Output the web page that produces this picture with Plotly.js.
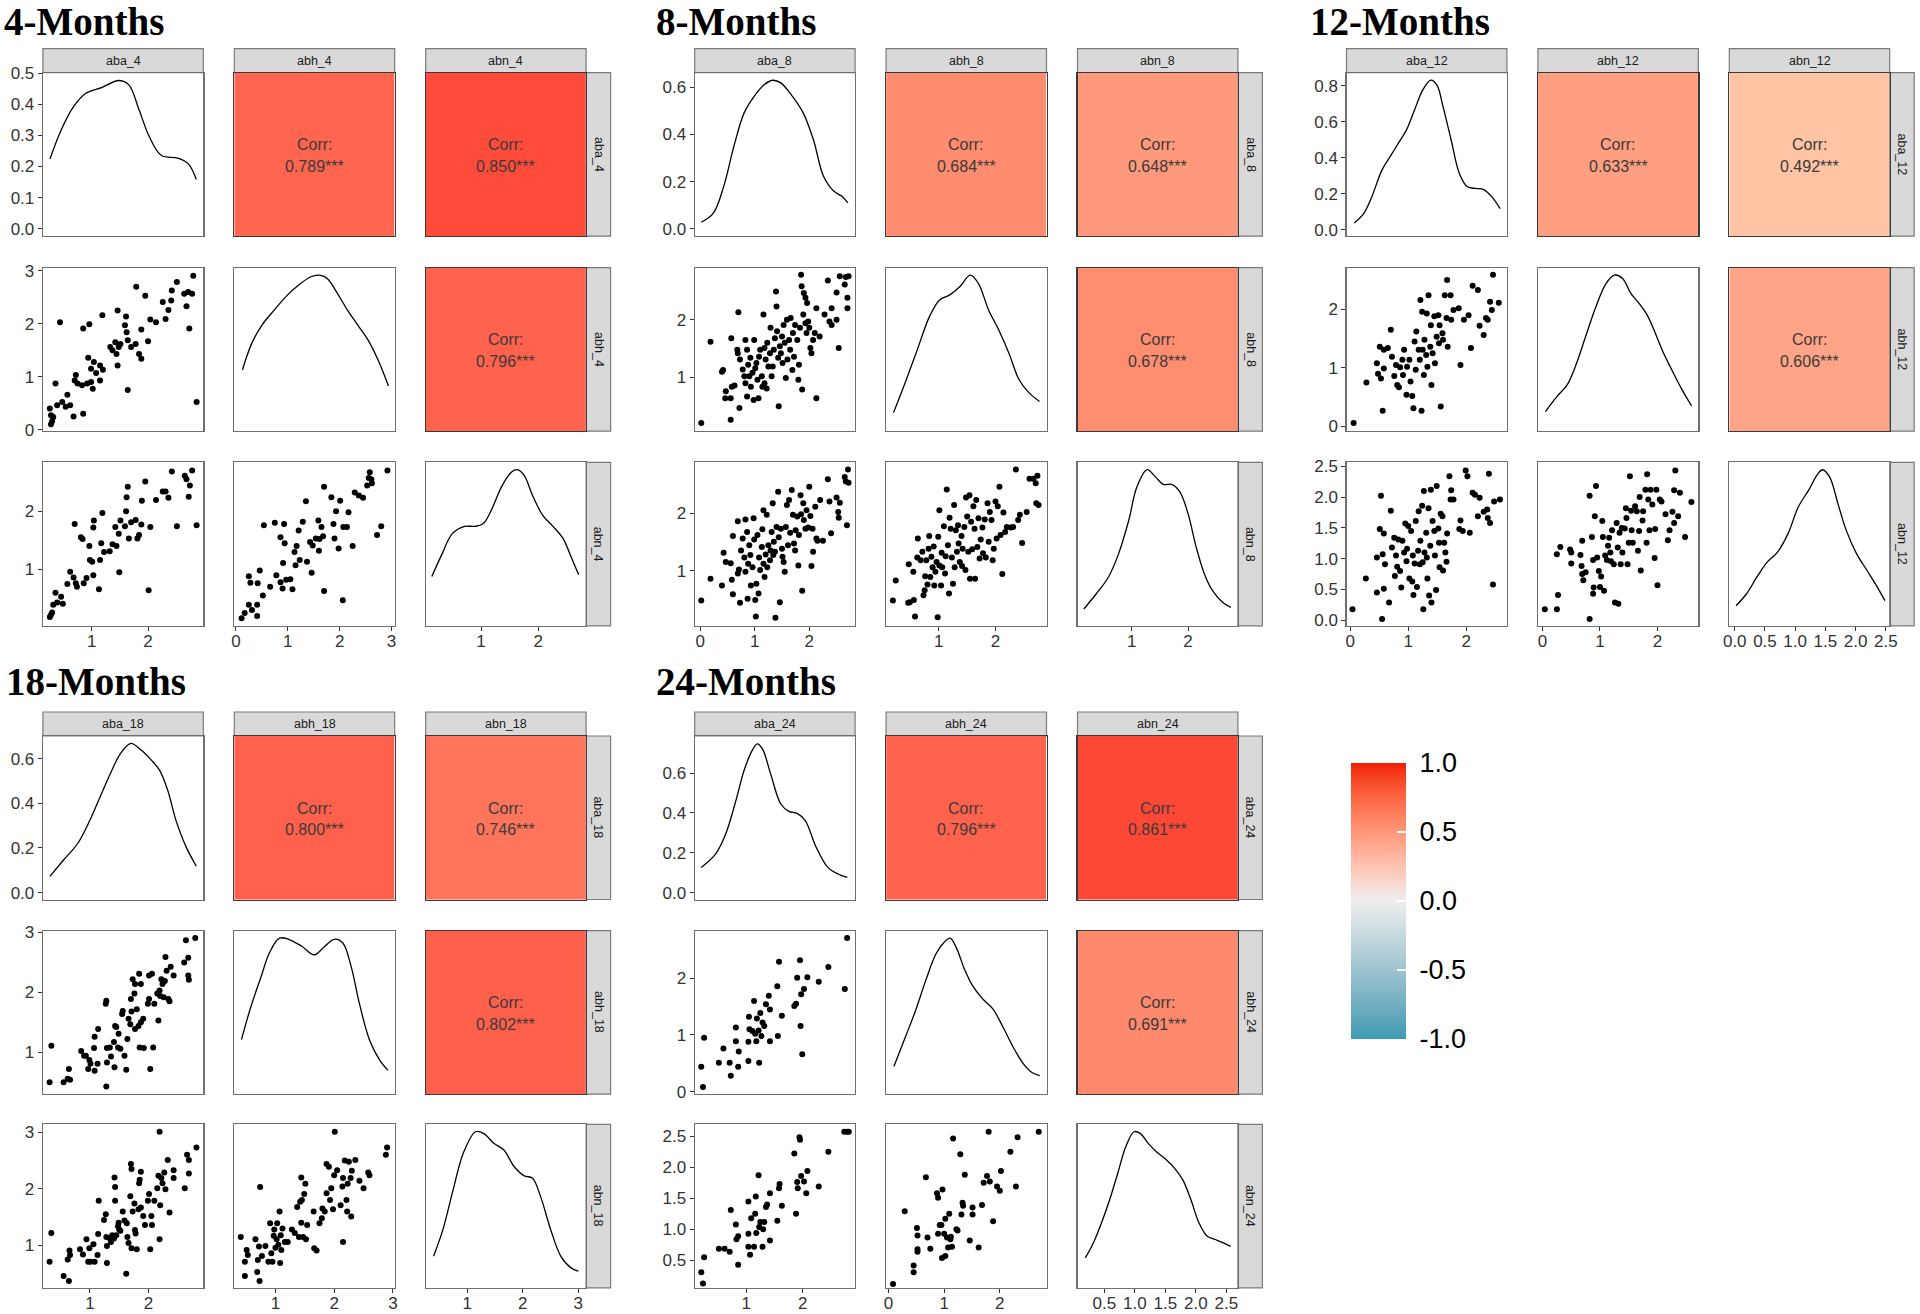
<!DOCTYPE html>
<html><head><meta charset="utf-8">
<script src="https://cdn.plot.ly/plotly-3.0.1.min.js"></script>
<style>html,body{margin:0;padding:0;background:#fff}#chart{width:1920px;height:1314px}</style>
</head><body><div id="chart"></div>
<script>
// ---------------- DATA ----------------
const blockTitles = ['4-Months','8-Months','12-Months','18-Months','24-Months'];
const varNames = [['aba_4','abh_4','abn_4'],['aba_8','abh_8','abn_8'],['aba_12','abh_12','abn_12'],['aba_18','abh_18','abn_18'],['aba_24','abh_24','abn_24']];
// correlations: [aba-abh, aba-abn, abh-abn]
const corr_4  = [0.789, 0.850, 0.796];
const corr_8  = [0.684, 0.648, 0.678];
const corr_12 = [0.633, 0.492, 0.606];
const corr_18 = [0.800, 0.746, 0.802];
const corr_24 = [0.796, 0.861, 0.691];
const corrSig = '***';
const colorbarTicks = [-1, -0.5, 0, 0.5, 1];
const colorbarTickText = ['-1.0','-0.5','0.0','0.5','1.0'];

// density curves [x, density]; first variable of each block is on the labelled density axis,
// the other two are read relative to their (unlabelled) peak
const dens_aba_4 = [[0.261,0.224],[0.463,0.318],[0.68,0.392],[0.898,0.435],[1.187,0.454],[1.478,0.476],[1.659,0.462],[1.84,0.382],[2.02,0.296],[2.237,0.235],[2.528,0.227],[2.71,0.209],[2.855,0.158]];
const dens_abh_4 = [[0.126,0.362],[0.306,0.541],[0.503,0.664],[0.739,0.765],[0.974,0.859],[1.21,0.933],[1.445,0.989],[1.602,1.0],[1.76,0.978],[1.956,0.877],[2.15,0.765],[2.35,0.664],[2.545,0.564],[2.74,0.429],[2.94,0.254]];
const dens_abn_4 = [[0.137,0.281],[0.317,0.434],[0.496,0.57],[0.712,0.619],[0.892,0.619],[1.036,0.637],[1.18,0.728],[1.36,0.886],[1.54,0.987],[1.633,1.0],[1.755,0.962],[1.90,0.829],[2.08,0.693],[2.26,0.619],[2.44,0.535],[2.58,0.411],[2.71,0.293]];
const dens_aba_8 = [[0.022,0.028],[0.246,0.068],[0.433,0.181],[0.619,0.350],[0.806,0.491],[0.993,0.562],[1.179,0.611],[1.328,0.629],[1.478,0.618],[1.664,0.569],[1.888,0.491],[2.075,0.378],[2.261,0.223],[2.448,0.160],[2.597,0.138],[2.709,0.110]];
const dens_abh_8 = [[0.201,0.075],[0.403,0.273],[0.619,0.497],[0.835,0.721],[1.014,0.833],[1.194,0.867],[1.374,0.923],[1.554,1.0],[1.698,0.945],[1.878,0.766],[2.058,0.631],[2.237,0.475],[2.417,0.296],[2.597,0.206],[2.777,0.15]];
const dens_abn_8 = [[0.152,0.063],[0.37,0.164],[0.587,0.277],[0.768,0.434],[0.949,0.66],[1.094,0.885],[1.275,1.0],[1.42,0.952],[1.565,0.902],[1.71,0.902],[1.855,0.851],[2.0,0.705],[2.145,0.479],[2.29,0.299],[2.435,0.186],[2.616,0.107],[2.761,0.074]];
const dens_aba_12 = [[0.07,0.037],[0.232,0.089],[0.372,0.182],[0.547,0.331],[0.688,0.406],[0.828,0.48],[0.968,0.554],[1.109,0.666],[1.249,0.777],[1.389,0.833],[1.495,0.805],[1.6,0.685],[1.74,0.499],[1.881,0.313],[2.021,0.238],[2.161,0.229],[2.302,0.223],[2.442,0.182],[2.582,0.117]];
const dens_abh_12 = [[0.05,0.082],[0.25,0.183],[0.429,0.262],[0.571,0.385],[0.75,0.587],[0.929,0.788],[1.107,0.945],[1.25,1.0],[1.393,0.978],[1.536,0.877],[1.679,0.81],[1.821,0.731],[1.964,0.608],[2.107,0.474],[2.25,0.362],[2.429,0.228],[2.593,0.12]];
const dens_abn_12 = [[0.021,0.085],[0.193,0.164],[0.365,0.277],[0.537,0.378],[0.709,0.446],[0.882,0.57],[1.054,0.751],[1.226,0.864],[1.364,0.965],[1.453,1.0],[1.57,0.952],[1.708,0.772],[1.846,0.592],[2.018,0.434],[2.19,0.322],[2.362,0.209],[2.486,0.119]];
const dens_aba_18 = [[0.315,0.073],[0.545,0.145],[0.79,0.22],[1.0,0.325],[1.175,0.43],[1.35,0.534],[1.524,0.624],[1.699,0.669],[1.874,0.639],[2.049,0.594],[2.189,0.549],[2.329,0.459],[2.469,0.325],[2.643,0.205],[2.818,0.118]];
const dens_abh_18 = [[0.422,0.317],[0.582,0.537],[0.756,0.739],[0.895,0.897],[1.07,0.998],[1.244,0.987],[1.453,0.942],[1.662,0.886],[1.836,0.942],[2.01,0.991],[2.15,0.964],[2.289,0.807],[2.429,0.56],[2.603,0.312],[2.777,0.177],[2.916,0.11]];
const dens_abn_18 = [[0.392,0.162],[0.56,0.341],[0.744,0.609],[0.927,0.855],[1.147,1.0],[1.293,0.989],[1.476,0.922],[1.659,0.877],[1.842,0.766],[2.026,0.703],[2.172,0.688],[2.319,0.565],[2.502,0.341],[2.685,0.162],[2.868,0.084],[3.0,0.062]];
const dens_aba_24 = [[0.209,0.127],[0.46,0.194],[0.64,0.295],[0.82,0.462],[0.964,0.613],[1.108,0.714],[1.194,0.747],[1.288,0.721],[1.432,0.596],[1.612,0.445],[1.755,0.408],[1.899,0.398],[2.043,0.362],[2.223,0.236],[2.439,0.127],[2.619,0.094],[2.784,0.077]];
const dens_abh_24 = [[0.095,0.136],[0.3,0.333],[0.484,0.512],[0.667,0.714],[0.85,0.893],[0.996,0.971],[1.106,1.0],[1.216,0.938],[1.363,0.792],[1.509,0.68],[1.692,0.591],[1.875,0.524],[2.059,0.4],[2.242,0.266],[2.425,0.154],[2.571,0.098],[2.718,0.075]];
const dens_abn_24 = [[0.187,0.151],[0.32,0.252],[0.453,0.386],[0.587,0.542],[0.72,0.721],[0.853,0.9],[0.987,1.0],[1.087,0.989],[1.22,0.922],[1.353,0.866],[1.52,0.81],[1.653,0.754],[1.787,0.676],[1.92,0.542],[2.053,0.386],[2.187,0.297],[2.32,0.275],[2.453,0.252],[2.573,0.229]];

// scatter points [x, y]
const pts4_aba_abh = [[0.26,0.40],[0.28,0.27],[0.30,0.16],[0.28,0.10],[0.32,0.24],[0.36,0.87],[0.44,2.03],[0.39,0.46],[0.48,0.52],[0.54,0.43],[0.57,0.66],[0.62,0.46],[0.68,0.25],[0.70,0.93],[0.72,1.03],[0.75,0.87],[0.83,0.84],[0.85,0.30],[0.85,1.91],[0.92,0.87],[0.96,1.99],[0.94,1.36],[0.99,0.90],[0.99,1.15],[1.02,0.77],[1.04,1.28],[1.08,1.07],[1.15,0.93],[1.15,1.21],[1.19,2.16],[1.20,1.13],[1.33,1.56],[1.37,1.50],[1.42,1.65],[1.44,1.43],[1.46,1.21],[1.46,2.25],[1.48,1.56],[1.51,1.62],[1.59,1.97],[1.61,2.14],[1.62,1.84],[1.64,0.75],[1.64,1.69],[1.70,1.56],[1.78,1.62],[1.79,2.70],[1.84,1.43],[1.88,1.34],[1.88,1.89],[1.95,2.53],[2.00,1.67],[2.04,2.08],[2.14,2.03],[2.26,2.41],[2.31,2.09],[2.36,2.26],[2.41,2.44],[2.42,2.63],[2.51,2.79],[2.64,2.57],[2.68,2.33],[2.71,2.60],[2.73,1.91],[2.78,2.57],[2.80,2.91],[2.86,0.52]];
const pts4_aba_abn = [[0.26,0.18],[0.28,0.22],[0.30,0.26],[0.36,0.60],[0.32,0.39],[0.39,0.43],[0.46,0.53],[0.49,0.41],[0.57,0.75],[0.62,0.96],[0.68,0.86],[0.70,1.78],[0.72,0.76],[0.74,0.70],[0.81,1.55],[0.84,1.52],[0.86,0.76],[0.91,0.85],[0.96,1.40],[0.97,1.16],[1.01,1.13],[1.03,1.72],[1.04,1.84],[1.03,0.90],[1.13,0.66],[1.15,1.16],[1.17,1.45],[1.19,1.97],[1.22,1.30],[1.32,1.31],[1.37,1.43],[1.42,1.73],[1.44,1.40],[1.48,1.61],[1.49,0.95],[1.51,1.84],[1.59,1.74],[1.61,2.00],[1.62,2.24],[1.64,2.42],[1.66,1.53],[1.70,1.81],[1.78,1.85],[1.81,1.53],[1.84,1.59],[1.88,1.77],[1.89,2.18],[1.95,2.51],[2.01,0.64],[2.04,1.73],[2.14,2.19],[2.26,2.34],[2.31,2.34],[2.36,2.23],[2.42,2.68],[2.51,1.74],[2.65,2.61],[2.68,2.55],[2.72,2.25],[2.74,2.44],[2.78,2.70],[2.86,1.76]];
const pts4_abh_abn = [[0.11,0.16],[0.17,0.25],[0.25,0.88],[0.28,0.77],[0.25,0.39],[0.31,0.30],[0.41,0.39],[0.42,0.76],[0.41,0.20],[0.46,0.98],[0.52,0.55],[0.54,1.76],[0.66,0.70],[0.75,1.80],[0.78,0.90],[0.86,1.55],[0.86,0.78],[0.90,0.67],[0.91,1.11],[0.93,1.78],[0.94,1.45],[0.97,0.82],[1.05,0.83],[1.09,0.66],[1.13,1.30],[1.15,1.07],[1.17,1.40],[1.21,1.67],[1.23,1.16],[1.29,1.82],[1.35,2.17],[1.37,1.13],[1.43,1.47],[1.46,0.94],[1.48,1.41],[1.54,1.53],[1.59,1.84],[1.60,1.32],[1.61,1.52],[1.65,1.73],[1.68,1.57],[1.70,0.63],[1.70,2.42],[1.84,2.24],[1.88,1.78],[1.90,1.53],[1.93,2.00],[1.98,1.36],[2.01,2.18],[2.06,0.47],[2.07,1.73],[2.14,1.73],[2.17,1.98],[2.25,1.40],[2.29,2.32],[2.37,2.27],[2.45,2.23],[2.53,2.44],[2.56,2.57],[2.58,2.67],[2.61,2.55],[2.62,2.48],[2.72,1.59],[2.80,1.74],[2.92,2.70]];

const pts8_aba_abh = [[0.02,0.21],[0.19,1.62],[0.56,0.27],[0.46,0.64],[0.47,0.76],[0.56,0.64],[0.58,0.84],[0.63,0.86],[0.40,1.10],[0.42,1.13],[0.57,1.68],[0.70,2.13],[0.68,1.48],[0.69,1.42],[0.73,1.31],[0.72,0.47],[0.78,1.14],[0.81,1.02],[0.83,1.65],[0.83,0.90],[0.86,0.67],[0.86,1.48],[0.88,1.22],[0.90,1.02],[0.92,1.34],[0.93,0.84],[0.96,1.08],[0.98,0.61],[0.99,1.65],[1.01,1.16],[1.03,1.25],[1.05,0.96],[1.07,0.64],[1.08,1.36],[1.10,1.48],[1.13,1.02],[1.14,0.84],[1.16,2.09],[1.18,1.51],[1.18,0.90],[1.20,1.31],[1.22,0.81],[1.23,1.60],[1.25,1.19],[1.28,1.42],[1.29,1.86],[1.31,1.02],[1.33,1.19],[1.35,1.48],[1.37,1.68],[1.39,2.49],[1.40,2.23],[1.41,1.80],[1.43,1.34],[1.44,0.50],[1.46,1.54],[1.48,1.42],[1.50,1.71],[1.51,1.25],[1.53,1.91],[1.55,1.60],[1.57,0.99],[1.59,2.00],[1.60,1.31],[1.63,1.65],[1.65,1.48],[1.66,2.03],[1.69,1.13],[1.70,1.77],[1.72,1.36],[1.74,1.91],[1.78,1.65],[1.80,0.96],[1.81,1.22],[1.83,1.86],[1.85,2.78],[1.86,2.58],[1.87,0.79],[1.89,2.09],[1.90,2.46],[1.93,1.94],[1.93,2.38],[1.95,1.77],[1.96,2.29],[1.98,1.97],[2.00,1.86],[2.02,1.51],[2.04,1.42],[2.07,1.65],[2.10,1.77],[2.13,0.64],[2.13,2.20],[2.19,1.71],[2.28,2.09],[2.34,2.68],[2.37,1.97],[2.41,2.20],[2.41,1.91],[2.50,2.00],[2.54,1.51],[2.50,2.47],[2.56,2.75],[2.65,2.61],[2.67,2.74],[2.70,2.38],[2.70,2.20],[2.72,2.75]];
const pts8_aba_abn = [[0.02,0.48],[0.19,0.86],[0.40,0.74],[0.43,1.31],[0.47,1.15],[0.56,1.13],[0.58,0.84],[0.60,1.60],[0.60,0.59],[0.69,1.86],[0.69,0.95],[0.71,1.02],[0.73,0.44],[0.75,1.35],[0.78,1.56],[0.81,1.23],[0.83,1.89],[0.83,0.98],[0.86,1.67],[0.87,0.51],[0.88,1.12],[0.90,1.44],[0.92,1.27],[0.93,0.74],[0.96,1.06],[0.98,1.91],[0.99,1.54],[1.01,0.49],[1.02,0.20],[1.03,0.77],[1.05,1.62],[1.07,0.60],[1.08,1.23],[1.10,1.01],[1.13,1.41],[1.14,1.72],[1.16,2.05],[1.16,1.12],[1.18,0.89],[1.20,1.28],[1.22,1.97],[1.23,1.06],[1.25,1.44],[1.28,1.18],[1.29,1.35],[1.31,1.67],[1.33,2.17],[1.34,1.27],[1.35,1.50],[1.37,1.33],[1.38,0.18],[1.40,1.76],[1.43,2.37],[1.44,1.58],[1.46,0.45],[1.48,1.73],[1.50,1.38],[1.51,1.24],[1.53,1.15],[1.55,0.98],[1.57,1.76],[1.59,2.14],[1.61,1.44],[1.63,2.23],[1.65,1.66],[1.68,2.40],[1.70,1.97],[1.72,1.47],[1.74,1.35],[1.75,1.70],[1.78,1.94],[1.80,1.09],[1.81,1.62],[1.84,2.31],[1.85,1.98],[1.87,0.65],[1.89,2.17],[1.90,1.88],[1.93,1.73],[1.95,2.05],[1.98,1.75],[2.00,2.46],[2.02,1.95],[2.04,1.08],[2.06,1.73],[2.07,1.33],[2.11,2.11],[2.13,1.56],[2.15,1.52],[2.20,2.23],[2.25,1.52],[2.34,2.59],[2.37,2.20],[2.40,1.65],[2.50,2.27],[2.53,2.02],[2.54,1.92],[2.56,2.18],[2.65,2.63],[2.67,2.55],[2.69,1.79],[2.71,2.76],[2.72,2.53]];
const pts8_abh_abn = [[0.19,0.48],[0.24,0.83],[0.46,0.44],[0.49,0.45],[0.56,0.49],[0.58,0.20],[0.47,1.11],[0.55,0.98],[0.62,1.23],[0.63,1.56],[0.68,1.18],[0.71,1.33],[0.73,0.57],[0.75,0.66],[0.76,0.90],[0.78,1.18],[0.80,0.76],[0.82,1.38],[0.83,1.60],[0.85,0.89],[0.87,1.24],[0.89,1.06],[0.91,1.42],[0.92,0.74],[0.94,0.98],[0.96,1.15],[0.98,0.19],[0.99,1.59],[1.01,2.05],[1.01,1.09],[1.04,0.74],[1.05,1.31],[1.06,1.06],[1.09,1.77],[1.11,0.95],[1.12,1.25],[1.14,2.41],[1.16,1.44],[1.18,0.60],[1.19,1.92],[1.21,1.73],[1.23,1.23],[1.25,0.77],[1.27,2.14],[1.28,1.06],[1.30,1.70],[1.32,1.33],[1.34,1.79],[1.35,1.47],[1.37,1.15],[1.40,1.60],[1.41,1.08],[1.42,1.38],[1.45,1.76],[1.47,1.01],[1.48,2.27],[1.50,1.94],[1.52,1.33],[1.54,2.31],[1.55,0.86],[1.57,1.85],[1.59,1.37],[1.61,2.12],[1.63,1.73],[1.64,0.86],[1.66,2.23],[1.68,1.41],[1.70,1.91],[1.72,1.21],[1.74,1.54],[1.77,1.75],[1.78,1.30],[1.81,1.89],[1.83,1.23],[1.86,2.17],[1.88,1.50],[1.90,2.02],[1.93,1.88],[1.95,1.18],[1.97,1.38],[2.00,2.20],[2.02,1.56],[2.04,2.12],[2.07,2.46],[2.09,1.62],[2.12,0.94],[2.14,2.01],[2.17,1.67],[2.20,1.76],[2.27,1.75],[2.31,1.76],[2.36,2.76],[2.40,1.88],[2.43,1.97],[2.47,1.48],[2.55,2.02],[2.60,2.60],[2.67,2.60],[2.71,2.52],[2.72,2.17],[2.74,2.65],[2.76,2.14]];

const pts12_aba_abh = [[0.06,0.06],[0.28,0.75],[0.56,0.27],[0.46,1.08],[0.48,0.90],[0.51,1.36],[0.53,0.82],[0.58,0.99],[0.58,1.31],[0.65,1.34],[0.70,1.65],[0.72,1.19],[0.76,0.86],[0.79,1.05],[0.81,0.71],[0.84,0.67],[0.86,1.01],[0.90,1.14],[0.91,0.88],[0.93,1.31],[0.97,0.54],[0.98,1.02],[1.02,1.14],[1.04,0.77],[1.07,0.52],[1.09,0.31],[1.11,1.45],[1.13,0.97],[1.14,1.62],[1.18,1.31],[1.20,1.14],[1.21,2.16],[1.23,0.27],[1.24,1.96],[1.25,1.31],[1.27,0.88],[1.28,1.48],[1.31,1.22],[1.32,1.93],[1.33,1.02],[1.35,2.24],[1.38,1.36],[1.39,1.73],[1.40,0.71],[1.42,1.25],[1.45,1.88],[1.46,1.08],[1.49,1.53],[1.52,1.90],[1.53,1.42],[1.54,1.73],[1.56,0.34],[1.59,1.59],[1.60,1.48],[1.63,2.24],[1.66,1.85],[1.67,2.50],[1.68,1.36],[1.73,2.24],[1.74,1.82],[1.78,1.99],[1.87,2.02],[1.90,1.05],[1.96,1.82],[2.04,1.90],[2.08,1.34],[2.11,2.40],[2.20,2.33],[2.23,1.72],[2.30,1.56],[2.34,1.85],[2.37,1.82],[2.41,2.13],[2.44,1.99],[2.46,2.59],[2.56,2.11]];
const pts12_aba_abn = [[0.04,0.18],[0.27,0.68],[0.46,0.45],[0.46,1.02],[0.51,1.48],[0.53,2.02],[0.55,0.02],[0.56,1.07],[0.58,1.41],[0.58,0.51],[0.60,0.91],[0.67,0.29],[0.70,1.78],[0.72,1.18],[0.76,1.34],[0.77,0.72],[0.79,1.05],[0.81,0.87],[0.83,1.31],[0.86,0.80],[0.88,0.53],[0.90,1.29],[0.93,1.10],[0.95,1.57],[0.97,0.96],[0.98,1.16],[1.00,1.53],[1.02,0.68],[1.05,1.45],[1.07,0.63],[1.08,1.05],[1.09,0.41],[1.11,0.92],[1.13,1.61],[1.15,0.54],[1.17,1.13],[1.18,1.77],[1.20,0.91],[1.21,1.29],[1.24,1.86],[1.25,0.94],[1.26,0.18],[1.27,2.10],[1.28,1.10],[1.31,1.42],[1.32,1.02],[1.33,0.68],[1.35,1.82],[1.36,0.40],[1.38,1.21],[1.39,2.12],[1.40,0.29],[1.42,1.61],[1.45,1.45],[1.46,1.05],[1.48,0.49],[1.49,2.18],[1.52,1.49],[1.53,1.26],[1.54,0.86],[1.56,1.73],[1.59,1.69],[1.60,0.81],[1.62,1.26],[1.64,1.10],[1.66,0.95],[1.67,1.41],[1.71,2.34],[1.73,1.96],[1.74,2.11],[1.78,1.96],[1.88,1.48],[1.90,1.62],[1.94,1.45],[1.99,2.43],[2.02,2.34],[2.06,1.42],[2.11,2.07],[2.15,2.04],[2.20,1.69],[2.23,1.99],[2.30,1.76],[2.36,1.80],[2.37,1.66],[2.39,2.38],[2.41,1.58],[2.46,0.58],[2.48,1.93],[2.58,1.96]];
const pts12_abh_abn = [[0.04,0.18],[0.25,0.18],[0.27,0.41],[0.31,1.19],[0.25,1.07],[0.48,1.15],[0.50,0.92],[0.50,1.10],[0.66,1.06],[0.68,0.88],[0.69,1.29],[0.69,0.75],[0.71,0.65],[0.75,0.78],[0.82,2.02],[0.82,0.02],[0.86,1.35],[0.88,0.98],[0.88,0.43],[0.89,0.53],[0.91,1.69],[0.93,2.18],[0.95,1.02],[0.98,0.80],[1.00,0.54],[1.02,0.71],[1.04,1.61],[1.05,1.35],[1.07,0.48],[1.09,1.05],[1.12,0.98],[1.14,1.21],[1.16,1.34],[1.18,1.10],[1.19,0.96],[1.21,1.46],[1.24,0.91],[1.26,0.29],[1.29,1.58],[1.31,1.18],[1.32,0.27],[1.34,1.42],[1.36,0.91],[1.38,1.50],[1.39,1.10],[1.43,1.49],[1.45,1.82],[1.46,1.66],[1.48,0.91],[1.50,1.26],[1.52,2.34],[1.54,1.78],[1.55,1.46],[1.57,1.26],[1.61,1.85],[1.64,1.77],[1.66,1.13],[1.68,1.45],[1.69,2.00],[1.71,0.81],[1.74,1.62],[1.75,1.77],[1.79,2.12],[1.81,1.26],[1.82,2.37],[1.84,1.96],[1.86,1.46],[1.88,2.12],[1.91,1.88],[1.95,1.01],[1.96,1.48],[1.98,2.12],[2.00,0.57],[2.04,1.96],[2.07,1.93],[2.14,1.72],[2.18,1.30],[2.21,1.46],[2.26,1.76],[2.29,1.58],[2.31,2.43],[2.29,2.11],[2.36,1.69],[2.39,2.07],[2.48,1.35],[2.59,1.92]];

const pts18_aba_abh = [[0.31,0.50],[0.34,1.11],[0.55,0.50],[0.62,0.56],[0.64,0.72],[0.66,0.54],[0.85,1.02],[0.90,0.94],[0.93,0.94],[0.97,0.72],[0.99,0.87],[1.01,0.81],[1.07,1.07],[1.08,0.69],[1.13,0.81],[1.08,1.26],[1.14,1.39],[1.27,1.81],[1.28,1.86],[1.28,0.43],[1.29,1.07],[1.29,0.83],[1.34,1.08],[1.36,0.93],[1.41,1.17],[1.42,0.75],[1.43,1.44],[1.45,1.42],[1.48,1.08],[1.49,1.31],[1.52,1.06],[1.55,1.64],[1.56,1.69],[1.59,0.94],[1.62,0.71],[1.64,1.22],[1.66,1.56],[1.69,1.47],[1.70,1.89],[1.71,1.68],[1.73,2.22],[1.76,1.98],[1.77,2.14],[1.77,1.39],[1.80,1.72],[1.83,1.44],[1.84,2.31],[1.85,1.08],[1.87,2.14],[1.87,1.50],[1.91,1.56],[1.92,1.07],[1.99,1.81],[2.01,1.89],[2.01,2.28],[2.03,0.72],[2.06,2.31],[2.08,1.08],[2.10,1.81],[2.15,1.98],[2.17,1.53],[2.19,2.03],[2.20,1.94],[2.22,2.22],[2.24,2.14],[2.26,1.92],[2.28,2.19],[2.29,2.59],[2.31,2.36],[2.34,1.89],[2.36,1.85],[2.38,2.43],[2.43,2.28],[2.61,2.50],[2.64,2.87],[2.68,2.58],[2.68,2.28],[2.69,2.21],[2.80,2.91]];
const pts18_aba_abn = [[0.31,0.71],[0.34,1.22],[0.55,0.46],[0.64,0.37],[0.62,0.75],[0.66,0.83],[0.65,0.91],[0.83,0.93],[0.88,0.84],[0.94,1.11],[0.97,0.71],[0.99,0.95],[1.01,0.71],[1.06,1.02],[1.08,0.71],[1.13,0.83],[1.14,1.20],[1.15,1.79],[1.24,1.45],[1.27,1.55],[1.28,1.15],[1.29,0.69],[1.29,0.99],[1.34,1.12],[1.36,1.06],[1.38,1.18],[1.41,1.12],[1.42,2.20],[1.43,2.03],[1.43,1.79],[1.45,1.18],[1.48,1.34],[1.49,1.40],[1.50,1.28],[1.52,1.26],[1.56,1.60],[1.59,1.44],[1.62,0.50],[1.63,1.39],[1.64,1.15],[1.66,1.04],[1.69,1.87],[1.70,2.44],[1.71,2.35],[1.71,0.95],[1.73,1.60],[1.76,1.74],[1.77,1.27],[1.78,1.21],[1.80,0.93],[1.83,1.64],[1.84,2.10],[1.85,2.16],[1.87,2.30],[1.87,1.67],[1.91,1.52],[1.94,1.36],[1.99,1.79],[2.01,1.91],[2.03,0.93],[2.05,1.52],[2.06,1.36],[2.10,1.79],[2.15,2.01],[2.17,2.23],[2.19,1.11],[2.20,1.71],[2.22,2.19],[2.24,2.10],[2.27,2.29],[2.29,1.99],[2.33,2.51],[2.36,1.58],[2.43,2.19],[2.43,2.33],[2.62,2.01],[2.66,2.60],[2.69,2.51],[2.69,2.27],[2.82,2.73],[2.19,3.01]];
const pts18_abh_abn = [[0.41,1.15],[0.48,0.46],[0.48,0.71],[0.51,0.92],[0.53,0.83],[0.66,1.11],[0.69,0.53],[0.70,0.74],[0.72,0.98],[0.73,0.37],[0.74,2.03],[0.77,0.81],[0.83,0.99],[0.88,0.71],[0.91,1.39],[0.93,0.86],[0.95,0.71],[0.97,1.17],[0.98,1.28],[1.00,0.96],[1.02,1.11],[1.03,1.39],[1.05,1.01],[1.07,1.60],[1.08,0.69],[1.09,1.18],[1.10,0.92],[1.12,1.30],[1.16,1.06],[1.21,1.06],[1.28,1.28],[1.33,1.22],[1.37,1.68],[1.40,1.15],[1.42,1.77],[1.44,2.20],[1.44,1.40],[1.45,1.80],[1.47,1.15],[1.49,1.91],[1.51,2.09],[1.52,1.11],[1.54,1.36],[1.65,1.60],[1.66,0.95],[1.70,0.91],[1.75,1.39],[1.79,1.48],[1.80,1.65],[1.84,1.60],[1.87,2.44],[1.87,1.92],[1.91,2.39],[1.93,1.80],[1.95,2.01],[1.98,1.64],[2.00,2.24],[2.01,3.01],[2.05,2.33],[2.11,1.71],[2.14,2.04],[2.15,2.19],[2.15,1.06],[2.18,2.50],[2.21,1.80],[2.22,1.60],[2.23,2.09],[2.25,2.48],[2.28,2.19],[2.29,1.51],[2.30,2.32],[2.36,2.51],[2.43,2.14],[2.50,2.01],[2.58,2.29],[2.60,2.24],[2.88,2.60],[2.90,2.73]];

const pts24_aba_abh = [[0.24,0.08],[0.21,0.44],[0.26,0.95],[0.52,0.51],[0.60,0.76],[0.71,0.51],[0.73,0.28],[0.82,0.89],[0.82,1.13],[0.86,0.44],[0.87,0.71],[1.04,0.54],[1.04,0.88],[1.05,1.32],[1.06,1.10],[1.11,1.07],[1.14,1.60],[1.16,1.02],[1.18,0.89],[1.19,1.29],[1.22,1.08],[1.23,0.51],[1.25,1.39],[1.27,0.98],[1.29,1.22],[1.32,1.16],[1.35,1.54],[1.40,1.69],[1.42,1.45],[1.42,0.89],[1.55,1.86],[1.56,0.98],[1.58,2.29],[1.63,1.34],[1.85,1.51],[1.88,1.55],[1.90,2.01],[1.95,2.32],[1.96,1.16],[1.97,1.72],[1.99,0.66],[2.02,1.81],[2.08,2.02],[2.28,1.94],[2.45,2.20],[2.74,1.81],[2.78,2.71]];
const pts24_aba_abn = [[0.21,0.31],[0.24,0.13],[0.26,0.55],[0.52,0.69],[0.62,0.69],[0.71,0.64],[0.73,1.31],[0.82,1.08],[0.83,0.84],[0.86,0.89],[0.86,0.43],[1.04,0.93],[1.04,0.72],[1.04,1.45],[1.07,0.59],[1.09,1.18],[1.14,0.72],[1.16,1.25],[1.17,1.53],[1.18,0.94],[1.22,1.87],[1.23,1.04],[1.25,1.12],[1.29,0.72],[1.30,1.00],[1.32,1.12],[1.35,1.36],[1.37,1.40],[1.42,0.82],[1.42,1.58],[1.55,1.14],[1.58,1.66],[1.59,1.73],[1.63,1.38],[1.85,2.22],[1.88,1.25],[1.90,1.76],[1.91,1.66],[1.94,2.48],[1.95,2.44],[1.97,1.86],[2.02,1.77],[2.06,1.58],[2.08,1.94],[2.28,1.69],[2.45,2.25],[2.73,2.57],[2.78,2.57],[2.81,2.57]];
const pts24_abh_abn = [[0.08,0.12],[0.29,1.29],[0.45,0.42],[0.45,0.31],[0.51,1.02],[0.52,0.90],[0.52,0.68],[0.52,0.64],[0.67,1.84],[0.70,0.87],[0.75,0.69],[0.87,1.58],[0.89,1.51],[0.89,0.93],[0.92,1.07],[0.95,1.07],[0.96,0.54],[0.97,1.64],[1.00,0.93],[1.02,1.17],[1.02,0.57],[1.05,0.87],[1.07,0.71],[1.09,1.25],[1.11,0.84],[1.12,0.88],[1.14,0.72],[1.16,2.46],[1.22,1.00],[1.24,0.98],[1.29,2.21],[1.31,1.24],[1.33,1.43],[1.34,1.38],[1.37,1.88],[1.46,0.82],[1.51,1.35],[1.51,1.24],[1.62,0.71],[1.68,1.39],[1.71,1.75],[1.77,1.86],[1.80,2.57],[1.82,1.77],[1.88,1.13],[1.95,1.69],[2.00,1.62],[2.02,1.94],[2.19,2.25],[2.29,1.69],[2.32,2.48],[2.70,2.57]];

// ---------------- SCALES / LAYOUT CONFIG ----------------
const blocks = [
  {corr: corr_4,  dens:[dens_aba_4, dens_abh_4, dens_abn_4],  pts:[pts4_aba_abh, pts4_aba_abn, pts4_abh_abn],
   ranges:[[0.137,2.978],[-0.03,3.06],[0.03,2.84]], densRange:[-0.024,0.501], densTick:0.1, dticks:[1,1,1], fmts:['','',''],
   ox:0, top:true, titleX:4},
  {corr: corr_8,  dens:[dens_aba_8, dens_abh_8, dens_abn_8],  pts:[pts8_aba_abh, pts8_aba_abn, pts8_abh_abn],
   ranges:[[-0.10,2.84],[0.07,2.90],[0.04,2.884]], densRange:[-0.031,0.661], densTick:0.2, dticks:[1,1,1], fmts:['','',''],
   ox:651.8, top:true, titleX:656},
  {corr: corr_12, dens:[dens_aba_12, dens_abh_12, dens_abn_12], pts:[pts12_aba_abh, pts12_aba_abn, pts12_abh_abn],
   ranges:[[-0.063,2.70],[-0.08,2.71],[-0.09,2.565]], densRange:[-0.037,0.874], densTick:0.2, dticks:[1,1,0.5], fmts:['','','.1f'],
   ox:1303.6, top:true, titleX:1310},
  {corr: corr_18, dens:[dens_aba_18, dens_abh_18, dens_abn_18], pts:[pts18_aba_abh, pts18_aba_abn, pts18_abh_abn],
   ranges:[[0.196,2.937],[0.30,3.03],[0.25,3.14]], densRange:[-0.031,0.702], densTick:0.2, dticks:[1,1,1], fmts:['','',''],
   ox:0, top:false, titleX:6},
  {corr: corr_24, dens:[dens_aba_24, dens_abh_24, dens_abn_24], pts:[pts24_aba_abh, pts24_aba_abn, pts24_abh_abn],
   ranges:[[0.094,2.921],[-0.045,2.84],[0.06,2.69]], densRange:[-0.034,0.786], densTick:0.2, dticks:[1,1,0.5], fmts:['','','.1f'],
   ox:651.8, top:false, titleX:656}
];

// ---------------- COLOUR SCALES ----------------
// legend bar: Lab interpolation low-mid-high
const lowCol='#3B9AB2', midCol='#EEEEEE', highCol='#F21A00';
function s2l(c){c/=255;return c<=0.04045?c/12.92:Math.pow((c+0.055)/1.055,2.4);}
function l2s(c){const v=c<=0.0031308?12.92*c:1.055*Math.pow(Math.max(c,0),1/2.4)-0.055;return Math.round(Math.max(0,Math.min(1,v))*255);}
function hexToLab(h){
  const r=s2l(parseInt(h.slice(1,3),16)),g=s2l(parseInt(h.slice(3,5),16)),b=s2l(parseInt(h.slice(5,7),16));
  const X=(0.4124*r+0.3576*g+0.1805*b)/0.95047,Y=0.2126*r+0.7152*g+0.0722*b,Z=(0.0193*r+0.1192*g+0.9505*b)/1.08883;
  const f=t=>t>0.008856?Math.cbrt(t):(7.787*t+16/116);
  return [116*f(Y)-16,500*(f(X)-f(Y)),200*(f(Y)-f(Z))];
}
function labToRgb(L,a,b){
  const fy=(L+16)/116,fx=fy+a/500,fz=fy-b/200;
  const inv=t=>(t*t*t>0.008856)?t*t*t:(t-16/116)/7.787;
  const X=0.95047*inv(fx),Y=inv(fy),Z=1.08883*inv(fz);
  const r=3.2406*X-1.5372*Y-0.4986*Z,g=-0.9689*X+1.8758*Y+0.0415*Z,bb=0.0557*X-0.2040*Y+1.0570*Z;
  return 'rgb('+l2s(r)+','+l2s(g)+','+l2s(bb)+')';
}
const LL=hexToLab(lowCol),LM=hexToLab(midCol),LH=hexToLab(highCol);
const legendScale=[];
for(let s=0;s<=40;s++){
  const v=-1+s/20; let A,B,t;
  if(v<0){A=LL;B=LM;t=v+1;}else{A=LM;B=LH;t=v;}
  legendScale.push([s/40,labToRgb(A[0]+(B[0]-A[0])*t,A[1]+(B[1]-A[1])*t,A[2]+(B[2]-A[2])*t)]);
}
// fill scale of the correlation cells (as it appears in the panels)
const cellScale=[[0,'rgb(255,255,255)'],[0.40,'rgb(255,222,196)'],[0.492,'rgb(255,196,163)'],[0.606,'rgb(255,164,134)'],
  [0.633,'rgb(255,158,128)'],[0.70,'rgb(255,134,106)'],[0.79,'rgb(255,101,79)'],[0.85,'rgb(255,76,58)'],[0.90,'rgb(250,58,40)'],[1,'rgb(242,26,0)']];

// ---------------- BUILD ----------------
const W=1920,H=1314;
const colLeft=[42.9,234.3,425.7], PW=160.4, PH=163.5;
const rowTopUp=[72.7,267.7,462.3], rowTopDown=[736,930.7,1124.3];
const stripH=24, stripW=24.5;
const tickFont={family:'Liberation Sans, Arial, sans-serif',size:17,color:'#333333'};
const stripFont={family:'Liberation Sans, Arial, sans-serif',size:12.5,color:'#1a1a1a'};
const corrFont={family:'Liberation Sans, Arial, sans-serif',size:16,color:'#3a3a3a'};
const traces=[], annotations=[], shapes=[];
const layout={width:W,height:H,margin:{l:0,r:0,t:0,b:0,autoexpand:false},paper_bgcolor:'#fff',plot_bgcolor:'#fff',showlegend:false,
  coloraxis:{cmin:-1,cmax:1,colorscale:legendScale,
    colorbar:{x:1350.7/W,xanchor:'left',y:1-900.9/H,yanchor:'middle',len:276.3/H,lenmode:'fraction',thickness:55,thicknessmode:'pixels',
      outlinewidth:0,xpad:0,ypad:0,tickmode:'array',tickvals:colorbarTicks,ticktext:colorbarTickText.map(t=>'\u00a0'+t),ticks:'inside',ticklen:9,tickcolor:'#ffffff',tickwidth:1.5,
      tickfont:{family:'Liberation Sans, Arial, sans-serif',size:27,color:'#000'}}},
  coloraxis2:{cmin:0,cmax:1,colorscale:cellScale,showscale:false}};
const px=x=>x/W, py=y=>1-y/H;
// invisible trace carrying the legend colour bar
traces.push({type:'heatmap',z:[colorbarTicks],coloraxis:'coloraxis',xaxis:'x',yaxis:'y',opacity:0,hoverinfo:'skip'});
let k=0;
blocks.forEach((B,bi)=>{
  const ox=B.ox, rowTop=B.top?rowTopUp:rowTopDown;
  const titleTop = B.top ? 0 : 659.6;
  annotations.push({xref:'paper',yref:'paper',x:px(B.titleX),y:py(titleTop),xanchor:'left',yanchor:'top',showarrow:false,borderpad:0,borderwidth:0,
    text:'<b>'+blockTitles[bi]+'</b>',font:{family:'Liberation Serif, Times New Roman, serif',size:39,color:'#000'}});
  for(let i=0;i<3;i++){for(let j=0;j<3;j++){
    k++;
    const x0=ox+colLeft[j],x1=x0+PW,y0=rowTop[i],y1=y0+PH;
    const xa={domain:[px(x0),px(x1)],anchor:'y'+k,showgrid:false,zeroline:false,showline:true,mirror:true,linecolor:'#6e6e6e',linewidth:1.2,
      ticks:'',showticklabels:false,fixedrange:true};
    const ya={domain:[py(y1),py(y0)],anchor:'x'+k,showgrid:false,zeroline:false,showline:true,mirror:true,linecolor:'#6e6e6e',linewidth:1.2,
      ticks:'',showticklabels:false,fixedrange:true};
    const xn='x'+(k===1?'':k), yn='y'+(k===1?'':k);
    if(i<j){ // correlation cell
      const r=B.corr[i+j-1];
      xa.range=[-0.5,0.5]; ya.range=[-0.5,0.5]; xa.linecolor='#3a3a3a'; ya.linecolor='#3a3a3a';
      traces.push({type:'heatmap',z:[[r]],x:[0],y:[0],coloraxis:'coloraxis2',xaxis:xn,yaxis:yn,hoverinfo:'skip'});
      const cx=(x0+x1)/2, cy=(y0+y1)/2;
      annotations.push({xref:'paper',yref:'paper',x:px(cx),y:py(cy-9.7),xanchor:'center',yanchor:'middle',showarrow:false,text:'Corr:',font:corrFont});
      annotations.push({xref:'paper',yref:'paper',x:px(cx),y:py(cy+12),xanchor:'center',yanchor:'middle',showarrow:false,text:r.toFixed(3)+corrSig,font:corrFont});
    } else if(i===j){ // density
      const d=B.dens[i];
      xa.range=B.ranges[j];
      if(i===0){ ya.range=B.densRange; }
      else { const m=Math.max(...d.map(p=>p[1])); ya.range=[-0.05*m,1.05*m]; }
      traces.push({type:'scatter',mode:'lines',x:d.map(p=>p[0]),y:d.map(p=>p[1]),line:{color:'#000',width:1.3,shape:'spline',smoothing:1},xaxis:xn,yaxis:yn,hoverinfo:'skip'});
    } else { // scatter
      const pts=B.pts[i+j-1];
      xa.range=B.ranges[j]; ya.range=B.ranges[i];
      traces.push({type:'scatter',mode:'markers',x:pts.map(p=>p[0]),y:pts.map(p=>p[1]),marker:{color:'#000',size:6},xaxis:xn,yaxis:yn,hoverinfo:'skip'});
    }
    if(j===0){
      Object.assign(ya,{ticks:'outside',ticklen:4,tickwidth:1,tickcolor:'#333',showticklabels:true,tickfont:tickFont,tick0:0});
      if(i===0){ ya.dtick=B.densTick; ya.tickformat='.1f'; }
      else { ya.dtick=B.dticks[i]; if(B.fmts[i]) ya.tickformat=B.fmts[i]; }
    }
    if(i===2){
      Object.assign(xa,{ticks:'outside',ticklen:4,tickwidth:1,tickcolor:'#333',showticklabels:true,tickfont:tickFont,tick0:0,dtick:B.dticks[j],ticklabelstandoff:-4});
      if(B.fmts[j]) xa.tickformat=B.fmts[j];
    }
    layout['xaxis'+(k===1?'':k)]=xa; layout['yaxis'+(k===1?'':k)]=ya;
    if(i===0){
      shapes.push({type:'rect',xref:'paper',yref:'paper',x0:px(x0),x1:px(x1),y0:py(y0-stripH),y1:py(y0),fillcolor:'#D9D9D9',line:{color:'#7a7a7a',width:1.2},layer:'below'});
      annotations.push({xref:'paper',yref:'paper',x:px((x0+x1)/2),y:py(y0-stripH/2),xanchor:'center',yanchor:'middle',showarrow:false,text:varNames[bi][j],font:stripFont});
    }
    if(j===2){
      shapes.push({type:'rect',xref:'paper',yref:'paper',x0:px(x1),x1:px(x1+stripW),y0:py(y1),y1:py(y0),fillcolor:'#D9D9D9',line:{color:'#7a7a7a',width:1.2},layer:'below'});
      annotations.push({xref:'paper',yref:'paper',x:px(x1+stripW/2),y:py((y0+y1)/2),xanchor:'center',yanchor:'middle',showarrow:false,textangle:90,text:varNames[bi][i],font:stripFont});
    }
  }}
});
layout.annotations=annotations; layout.shapes=shapes;
Plotly.newPlot('chart',traces,layout,{displayModeBar:false,staticPlot:true});
</script></body></html>
